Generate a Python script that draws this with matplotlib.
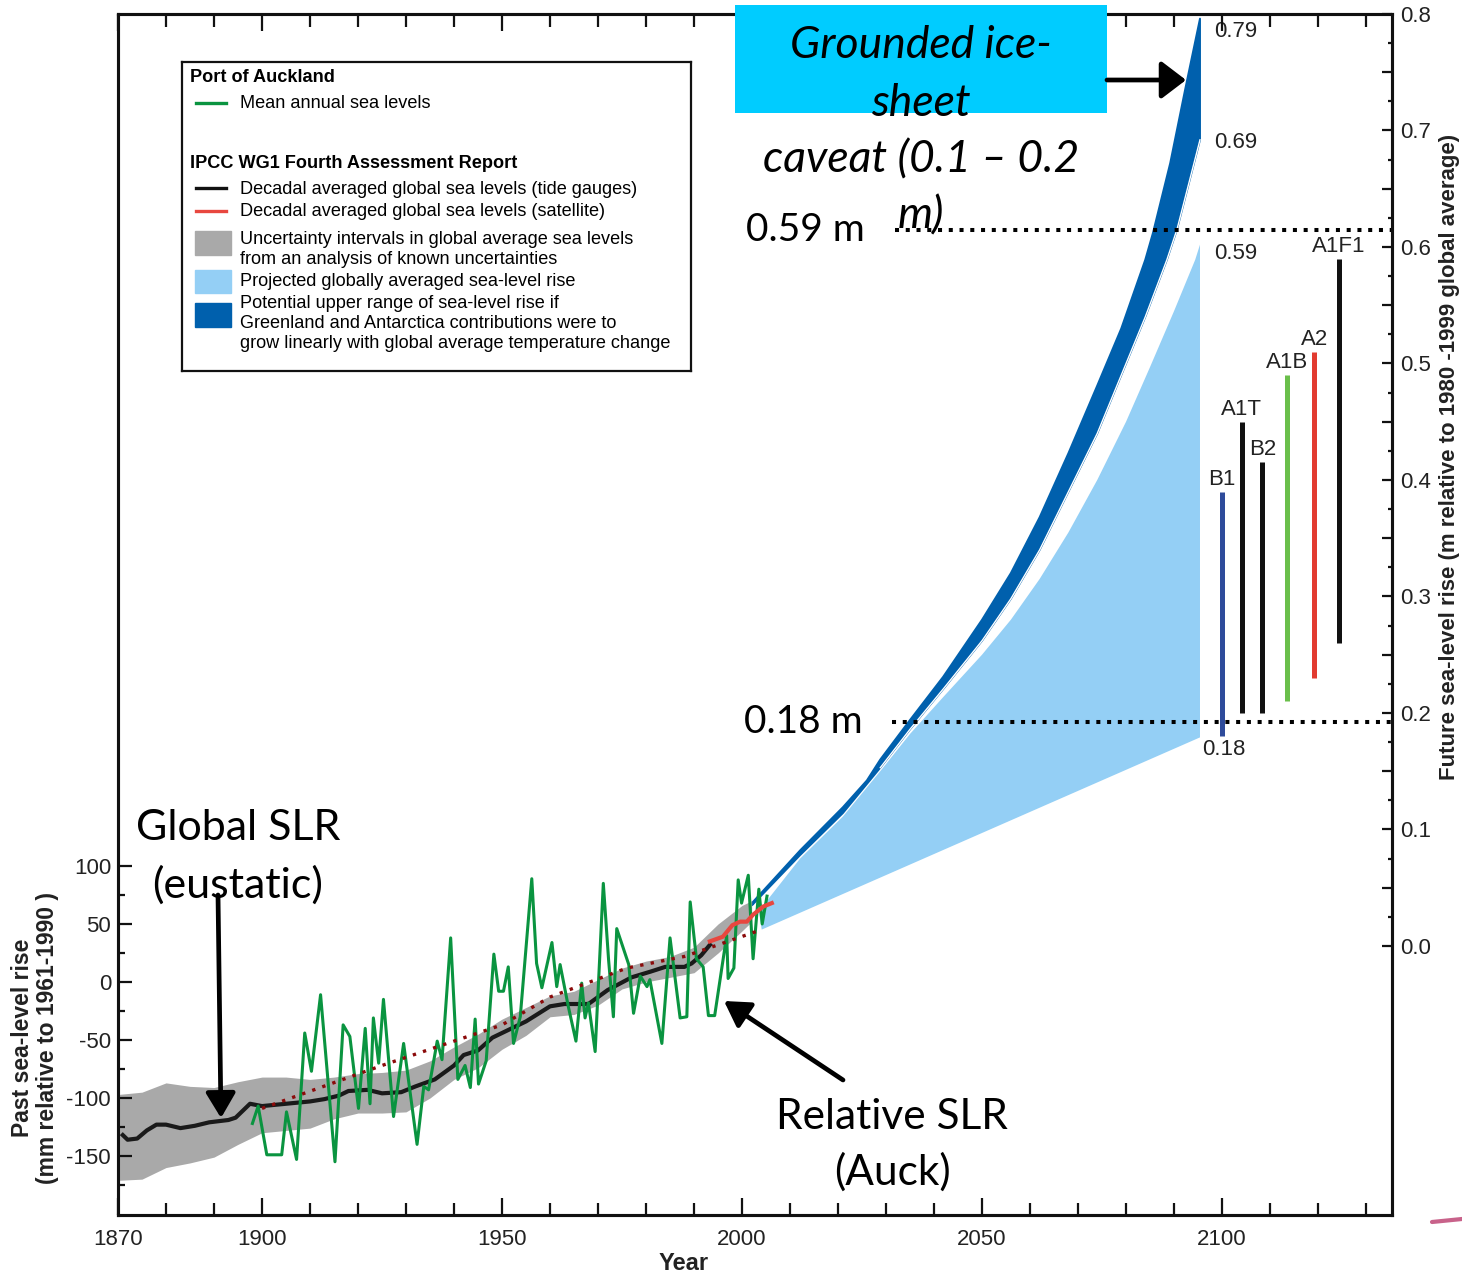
import numpy as np
import matplotlib
matplotlib.use("Agg")
import matplotlib.pyplot as plt
from matplotlib.patches import Rectangle, FancyArrowPatch
from matplotlib.lines import Line2D

plt.rcParams['axes.unicode_minus'] = False
plt.rcParams['font.family'] = ['Liberation Sans', 'DejaVu Sans']

W, H = 1462, 1273

# Port of Auckland mean annual sea level (mm, rel. 1961-1990)
auck_years = [1898.0, 1899.2, 1901.0, 1904.1, 1905.1, 1907.2, 1908.9, 1910.3, 1912.2, 1915.2,
              1916.9, 1918.3, 1920.1, 1921.5, 1922.5, 1923.2, 1924.3, 1925.3, 1927.4, 1929.5,
              1932.3, 1933.7, 1934.7, 1936.5, 1937.5, 1939.3, 1940.8, 1942.3, 1943.4, 1944.4,
              1945.1, 1946.7, 1948.3, 1949.3, 1950.3, 1951.3, 1952.4, 1953.8, 1956.2, 1957.2,
              1958.3, 1960.4, 1961.4, 1962.1, 1963.8, 1965.4, 1966.6, 1967.3, 1968.0, 1969.4,
              1971.1, 1972.2, 1973.2, 1973.9, 1976.4, 1977.4, 1978.8, 1980.2, 1980.8, 1983.3,
              1985.0, 1987.1, 1988.5, 1989.2, 1990.5, 1991.9, 1993.0, 1994.3, 1996.8, 1997.1,
              1998.3, 1999.2, 1999.9, 2001.3, 2002.3, 2003.5, 2004.2, 2005.2]
auck_mm = [-122, -107, -149, -149, -112, -153, -44, -77, -11, -155,
           -37, -47, -109, -40, -105, -31, -70, -15, -116, -53,
           -140, -90, -93, -51, -67, 38, -84, -72, -91, -32,
           -88, -68, 24, -8, -8, 13, -53, -30, 89, 16,
           -5, 34, -4, 15, -21, -51, -1, -31, -18, -60,
           85, 19, -30, 46, 15, -27, 5, -4, 2, -53,
           38, -31, -30, 69, 20, 13, -29, -29, 40, 3,
           12, 88, 68, 92, 20, 80, 50, 74]

# IPCC decadal global sea level, tide gauges (mm)
tide_years = [1871, 1872, 1874, 1876, 1878, 1880, 1883, 1886, 1889, 1893, 1894.5, 1897.5,
              1900, 1905, 1910, 1913, 1916, 1918, 1922, 1925, 1929, 1932, 1936, 1940,
              1942, 1945, 1948, 1952, 1955, 1960, 1963, 1968, 1972, 1977, 1981, 1984,
              1988, 1989.5, 1991.5, 1993.3]
tide_mm = [-132, -136, -135, -128, -123, -123, -126, -124, -121, -119, -117, -105,
           -107, -105, -103, -101, -98, -94, -93, -96, -95, -90, -84, -72,
           -63, -59, -48, -40, -34, -21, -19, -19, -7, 4, 9, 13,
           13, 16, 23, 32]

# satellite (mm)
sat_years = [1993.3, 1996.0, 1998.0, 1999.6, 2001.0, 2002.3, 2004.4, 2006.2]
sat_mm = [35, 39, 49, 52, 52, 58, 65, 68]

# uncertainty band (mm)
band_years = [1870, 1875, 1880, 1885, 1890, 1895, 1900, 1905, 1910, 1915, 1920, 1925, 1930,
              1935, 1940, 1945, 1950, 1955, 1960, 1965, 1970, 1975, 1980, 1985, 1990,
              1995, 2000, 2002]
band_hi = [-97, -95, -87, -90, -91, -86, -82, -82, -84, -82, -79, -78, -76,
           -68, -56, -45, -32, -22, -12, -8, 2, 12, 18, 22, 30, 50, 66, 70]
band_lo = [-171, -170, -160, -156, -151, -140, -130, -128, -126, -118, -113, -113, -112,
           -100, -84, -74, -58, -46, -30, -28, -20, -6, 0, 4, 8, 25, 44, 52]

# trend (dotted)
trend_years = [1900, 1925, 1950, 1960, 1976, 1988, 1995, 2004]
trend_mm = [-109, -72, -37, -13, 12, 22, 32, 45]

# projections (m, rel. 1980-1999)
lo_years = [2004.1, 2095.4]
lo_m = [0.014, 0.179]
light_top_years = [2003.5, 2012.1, 2021.0, 2028.8, 2035.0, 2042, 2050, 2056, 2062, 2068,
                   2074, 2080, 2085, 2090, 2094.4, 2095.4]
light_top_m = [0.030, 0.075, 0.111, 0.150, 0.182, 0.214, 0.25, 0.28, 0.315, 0.355,
               0.40, 0.45, 0.497, 0.545, 0.589, 0.602]
dark_out_years = [2002.1, 2012.1, 2021.0, 2026.0, 2028.8, 2035.0, 2041.9, 2050, 2056, 2062,
                  2068, 2074, 2079, 2084.0, 2085.6, 2089.2, 2092.3, 2095.4]
dark_out_m = [0.037, 0.082, 0.119, 0.142, 0.160, 0.194, 0.231, 0.28, 0.32, 0.368,
              0.423, 0.481, 0.53, 0.589, 0.612, 0.672, 0.735, 0.796]
dark_in_years = [2095.4, 2090.6, 2088.5, 2084, 2080, 2074, 2068, 2062, 2056, 2050,
                 2042, 2035.0, 2028.8, 2021.0, 2012.1, 2002.1]
dark_in_m = [0.692, 0.615, 0.589, 0.54, 0.50, 0.44, 0.39, 0.34, 0.298, 0.262,
             0.221, 0.186, 0.153, 0.114, 0.078, 0.035]

# SRES scenario ranges (m)
scen_names = ['B1', 'A1T', 'B2', 'A1B', 'A2', 'A1F1']
scen_x = [2100.0, 2104.1, 2108.4, 2113.6, 2119.2, 2124.4]
scen_lo = [0.18, 0.20, 0.20, 0.21, 0.23, 0.26]
scen_hi = [0.39, 0.45, 0.415, 0.49, 0.51, 0.59]
scen_colors = ['#2e4b9b', '#111111', '#111111', '#6abf4b', '#e23b30', '#111111']

end_labels = ['0.79', '0.69', '0.59']
end_values = [0.785, 0.69, 0.594]


def fx(px):
    return px / W


def fy(py):
    return 1 - py / H


fig = plt.figure(figsize=(W / 100, H / 100), dpi=100)
ax = fig.add_axes([fx(118), fy(1215), (1392 - 118) / W, (1215 - 14) / H])
ax2 = ax.twinx()
ax.set_zorder(ax2.get_zorder() + 1)
ax.patch.set_visible(False)

ax.set_xlim(1870, 2135.4)
ax.set_ylim(-200.9, 834.5)
ax2.set_ylim(-0.231, 0.8)

# projections on the right (m) axis
ax2.fill(light_top_years + lo_years[::-1], light_top_m + lo_m[::-1],
         color='#94cff5', lw=0)
ax2.fill(dark_out_years + dark_in_years, dark_out_m + dark_in_m,
         facecolor='#0060ad', edgecolor='#0060ad', lw=1.4, joinstyle='round')
# thin white seam between the two projection bands
ax2.plot(dark_in_years[:-3], dark_in_m[:-3], color='white', lw=1.0)

for x, lo, hi, c in zip(scen_x, scen_lo, scen_hi, scen_colors):
    ax2.plot([x, x], [lo, hi], color=c, lw=3.6, solid_capstyle='butt')
for x, hi, name in zip(scen_x, scen_hi, scen_names):
    ax2.annotate(name, (x, hi), xytext=(0, 9), textcoords='offset points',
                 ha='center', va='center', fontsize=16, color='#222222')
for lab, v in zip(end_labels, end_values):
    ax2.text(2098.3, v, lab, ha='left', va='center', fontsize=16, color='#222222')
ax2.annotate('0.18', (2095.8, lo_m[-1]), xytext=(0, -9), textcoords='offset points',
             ha='left', va='center', fontsize=16, color='#222222')

# dotted reference lines
ax2.plot([2031.9, 2135.4], [0.615, 0.615], color='k', lw=2.9, ls=(0, (1, 1.67)))
ax2.plot([2031.3, 2135.4], [0.192, 0.192], color='k', lw=2.9, ls=(0, (1, 1.67)))

# past data on the left (mm) axis
ax.fill_between(band_years, band_lo, band_hi, color='#a9a9a9', lw=0)
ax.plot(tide_years, tide_mm, color='#1a1a1a', lw=3)
ax.plot(auck_years, auck_mm, color='#0a9440', lw=2.2)
ax.plot(sat_years, sat_mm, color='#e8473f', lw=3)
ax.plot(trend_years, trend_mm, color='#8b0a0a', lw=2.4, ls=(0, (1, 2.2)))

# axes styling
for a in (ax, ax2):
    for s in a.spines.values():
        s.set_linewidth(2.2)
        s.set_color('#111111')

ax.set_xticks([1870, 1900, 1950, 2000, 2050, 2100])
ax.set_xticks(np.arange(1880, 2131, 10), minor=True)
ax.tick_params(axis='x', which='both', direction='in', top=True, bottom=True,
               labelsize=16, pad=10, width=1.6, colors='#111111', labelcolor='#222222')
ax.tick_params(axis='x', which='major', length=12)
ax.tick_params(axis='x', which='minor', length=9)

ax.set_yticks([-150, -100, -50, 0, 50, 100])
ax.set_yticks(np.arange(-175, 101, 50), minor=True)
ax.tick_params(axis='y', which='both', direction='in', left=True, right=False,
               labelsize=16, pad=5, width=1.6, colors='#111111', labelcolor='#222222')
ax.tick_params(axis='y', which='major', length=10)
ax.tick_params(axis='y', which='minor', length=5)

rt = np.arange(0, 0.801, 0.05)
ax2.set_yticks(rt)
ax2.set_yticklabels([f'{v:.1f}' if round(v * 20) % 2 == 0 else '' for v in rt])
ax2.set_yticks(np.arange(0.025, 0.8, 0.05), minor=True)
ax2.tick_params(axis='y', which='both', direction='in', right=True,
                labelsize=16, pad=6, width=1.6, colors='#111111', labelcolor='#222222')
ax2.tick_params(axis='y', which='major', length=7)
ax2.tick_params(axis='y', which='minor', length=3)

# axis titles
fig.text(fx(35), fy(1038), 'Past sea-level rise\n(mm relative to 1961-1990 )', rotation=90,
         ha='center', va='center', multialignment='center', fontsize=16.5,
         fontweight='bold', linespacing=1.12, color='#222222')
fig.text(fx(1449), fy(457), 'Future sea-level rise (m relative to 1980 -1999 global average)',
         rotation=90, ha='center', va='center', fontsize=16, fontweight='bold',
         color='#222222')
fig.text(fx(684), fy(1263), 'Year', ha='center', va='center', fontsize=17,
         fontweight='bold', color='#222222')

# legend box
leg = fig.add_axes([fx(182), fy(371), 509 / W, 309 / H])
leg.set_zorder(5)
leg.set_xlim(0, 509)
leg.set_ylim(309, 0)
leg.set_xticks([])
leg.set_yticks([])
for s in leg.spines.values():
    s.set_linewidth(1.6)
    s.set_color('#111111')
lfs = 13.1
leg.text(8, 15, 'Port of Auckland', fontweight='bold', fontsize=lfs, va='center')
leg.plot([14, 44], [41, 41], color='#0a9440', lw=2.4)
leg.text(58, 41, 'Mean annual sea levels', fontsize=lfs, va='center')
leg.text(8, 101, 'IPCC WG1 Fourth Assessment Report', fontweight='bold', fontsize=lfs,
         va='center')
leg.plot([14, 44], [126, 126], color='#111111', lw=2.4)
leg.text(58, 127, 'Decadal averaged global sea levels (tide gauges)', fontsize=lfs, va='center')
leg.plot([14, 44], [149, 149], color='#e8473f', lw=2.4)
leg.text(58, 150, 'Decadal averaged global sea levels (satellite)', fontsize=lfs, va='center')
leg.add_patch(Rectangle((13, 169), 36, 24, color='#a9a9a9'))
leg.text(58, 177, 'Uncertainty intervals in global average sea levels', fontsize=lfs, va='center')
leg.text(58, 197, 'from an analysis of known uncertainties', fontsize=lfs, va='center')
leg.add_patch(Rectangle((13, 208), 36, 23, color='#94cff5'))
leg.text(58, 219, 'Projected globally averaged sea-level rise', fontsize=lfs, va='center')
leg.add_patch(Rectangle((13, 241), 36, 24, color='#0060ad'))
leg.text(58, 242, 'Potential upper range of sea-level rise if', fontsize=lfs, va='center')
leg.text(58, 262, 'Greenland and Antarctica contributions were to', fontsize=lfs, va='center')
leg.text(58, 282, 'grow linearly with global average temperature change', fontsize=lfs,
         va='center')

# annotations
afont = ['Lato', 'DejaVu Sans']
fig.add_artist(Rectangle((fx(735), fy(113)), (1107 - 735) / W, 108 / H,
                         transform=fig.transFigure, facecolor='#00ccff', lw=0, zorder=10))
for line, py in zip(['Grounded ice-', 'sheet', 'caveat (0.1 \u2013 0.2', 'm)'],
                    [46, 103, 160, 216]):
    fig.text(fx(921), fy(py), line, ha='center', va='center', fontsize=32,
             style='italic', family=afont, zorder=11)
fig.text(fx(746), fy(230), '0.59 m', ha='left', va='center', fontsize=28, family=afont)
fig.text(fx(744), fy(722), '0.18 m', ha='left', va='center', fontsize=28, family=afont)
for line, py in zip(['Global SLR', '(eustatic)'], [828, 885]):
    fig.text(fx(238), fy(py), line, ha='center', va='center', fontsize=31,
             family=afont, zorder=11)
for line, py in zip(['Relative SLR', '(Auck)'], [1117, 1172]):
    fig.text(fx(892), fy(py), line, ha='center', va='center', fontsize=30.5, family=afont)

arrows = [((1107, 80), (1186, 80), 0.32, 0.42),
          ((218, 895), (221, 1118), 0.25, 0.42),
          ((843, 1080), (724, 1001), 0.25, 0.42)]
for (x0, y0), (x1, y1), hw, hl in arrows:
    fig.add_artist(FancyArrowPatch((fx(x0), fy(y0)), (fx(x1), fy(y1)),
                                   transform=fig.transFigure,
                                   arrowstyle=f'-|>,head_length={hl},head_width={hw}',
                                   mutation_scale=36, lw=3.4, color='k',
                                   shrinkA=0, shrinkB=0, zorder=12))

# stray pink mark at the bottom right
fig.add_artist(Line2D([fx(1432), fx(1462)], [fy(1222), fy(1219)], transform=fig.transFigure,
                      color='#c8628a', lw=3, solid_capstyle='round'))

fig.savefig('out.png', dpi=100)
